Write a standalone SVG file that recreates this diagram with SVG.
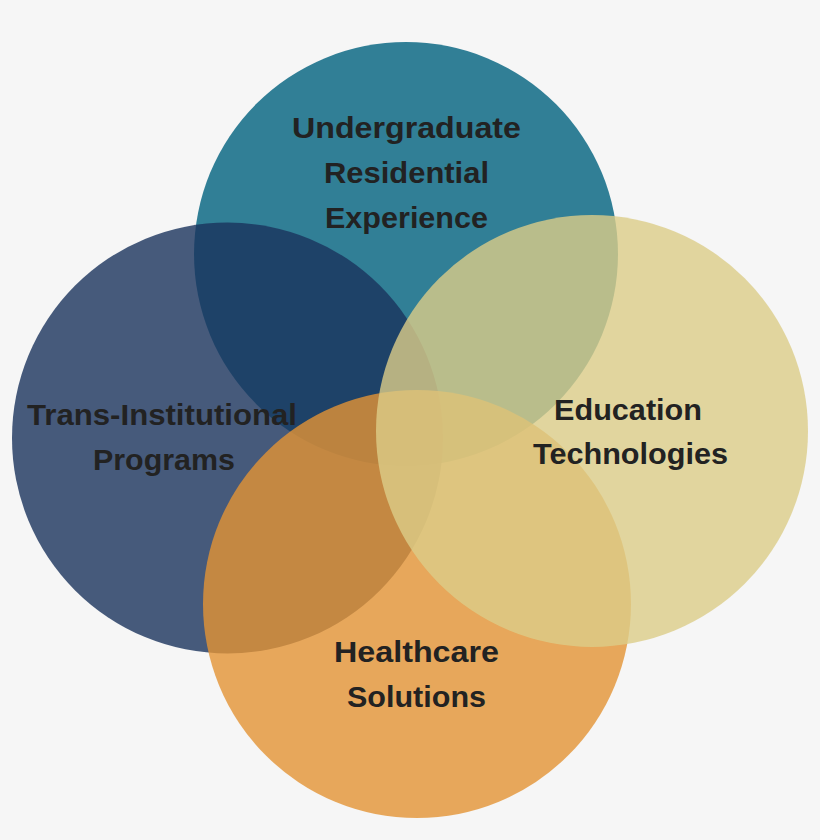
<svg xmlns="http://www.w3.org/2000/svg" width="820" height="840" viewBox="0 0 820 840">
<style>
.lbl{font-family:"Liberation Sans","Arial",sans-serif;font-weight:bold;font-size:29px;fill:#222222;text-anchor:middle}
.c{fill-opacity:0.8}
</style>
<rect width="820" height="840" fill="#f6f6f6"/>
<g id="connectors"></g>
<g id="node-undergraduate">
<circle cx="406" cy="254" r="212" fill="#317f96"/>
<text class="lbl" x="406.5" y="138" textLength="229" lengthAdjust="spacingAndGlyphs">Undergraduate</text>
<text class="lbl" x="406.5" y="183" textLength="165" lengthAdjust="spacingAndGlyphs">Residential</text>
<text class="lbl" x="406.5" y="228" textLength="163" lengthAdjust="spacingAndGlyphs">Experience</text>
</g>
<g id="node-trans-institutional">
<circle class="c" cx="227.5" cy="438" r="215.5" fill="#1a335d"/>
<text class="lbl" x="162" y="425" textLength="270" lengthAdjust="spacingAndGlyphs">Trans-Institutional</text>
<text class="lbl" x="164" y="470" textLength="142" lengthAdjust="spacingAndGlyphs">Programs</text>
</g>
<g id="node-healthcare">
<circle class="c" cx="417" cy="604" r="214" fill="#e49435"/>
<text class="lbl" x="416.5" y="662" textLength="165" lengthAdjust="spacingAndGlyphs">Healthcare</text>
<text class="lbl" x="416.5" y="707" textLength="139" lengthAdjust="spacingAndGlyphs">Solutions</text>
</g>
<g id="node-education">
<circle class="c" cx="592" cy="431" r="216" fill="#dccd88"/>
<text class="lbl" x="628" y="420" textLength="148" lengthAdjust="spacingAndGlyphs">Education</text>
<text class="lbl" x="630.5" y="464" textLength="195" lengthAdjust="spacingAndGlyphs">Technologies</text>
</g>
</svg>
